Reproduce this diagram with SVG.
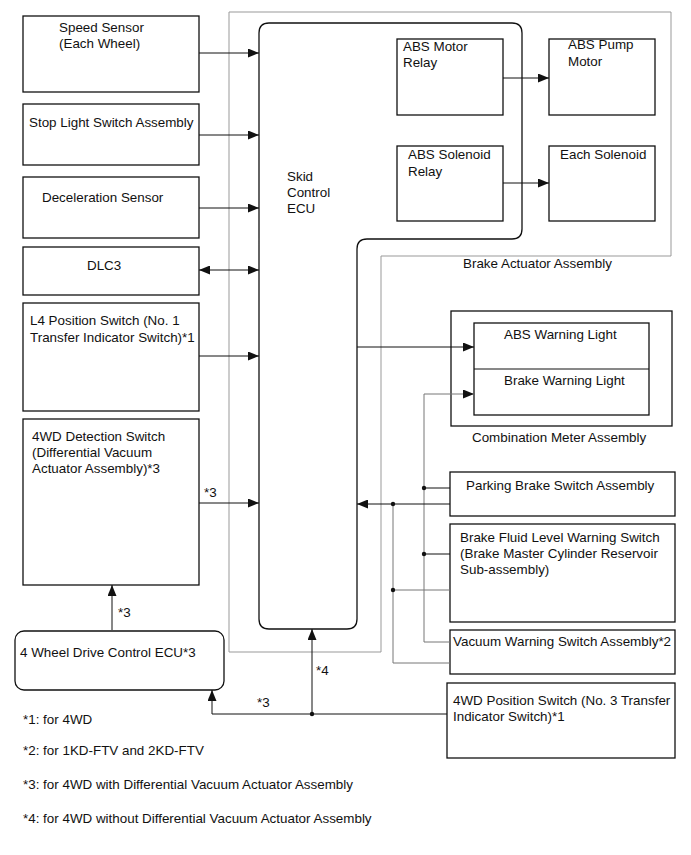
<svg xmlns="http://www.w3.org/2000/svg" width="691" height="855" viewBox="0 0 691 855">
<style>
text{font-family:"Liberation Sans",Arial,sans-serif;font-size:13.4px;fill:#111}
.box{fill:#fff;stroke:#111;stroke-width:1.3}
.gbox{fill:none;stroke:#999;stroke-width:1}
.c{fill:none;stroke:#111;stroke-width:1}
.g{fill:none;stroke:#777;stroke-width:1}
.dot{fill:#111}
</style>
<defs>
<marker id="ah" markerUnits="userSpaceOnUse" markerWidth="11" markerHeight="9" refX="11" refY="4.5" orient="auto-start-reverse" viewBox="0 0 11 9">
<path d="M0,0 L11,4.5 L0,9 Z" fill="#111"/>
</marker>
</defs>
<rect width="691" height="855" fill="#fff"/>
<g id="actuator">
<path class="gbox" d="M229,12 H671 V256 H381 V652 H229 Z"/>
<text x="463" y="268">Brake Actuator Assembly</text>
</g>
<g id="ecu">
<path class="box" d="M269,23 H512 Q522,23 522,33 V229 Q522,239 512,239 H367 Q357,239 357,249 V619 Q357,629 347,629 H269 Q259,629 259,619 V33 Q259,23 269,23 Z"/>
<text x="287" y="181">Skid</text>
<text x="287" y="197">Control</text>
<text x="287" y="213">ECU</text>
</g>
<g id="speed"><rect class="box" x="23" y="16" width="176" height="76"/><text x="59" y="32">Speed Sensor</text><text x="59" y="48">(Each Wheel)</text></g>
<g id="stop"><rect class="box" x="23" y="104" width="176" height="61"/><text x="29" y="127">Stop Light Switch Assembly</text></g>
<g id="decel"><rect class="box" x="23" y="177" width="176" height="61"/><text x="42" y="202">Deceleration Sensor</text></g>
<g id="dlc3"><rect class="box" x="23" y="247" width="176" height="48"/><text x="87" y="270">DLC3</text></g>
<g id="l4"><rect class="box" x="23" y="303" width="176" height="108"/><text x="30" y="325">L4 Position Switch (No. 1</text><text x="30" y="342">Transfer Indicator Switch)*1</text></g>
<g id="det4wd"><rect class="box" x="23" y="419" width="176" height="166"/><text x="32" y="441">4WD Detection Switch</text><text x="32" y="457">(Differential Vacuum</text><text x="32" y="473">Actuator Assembly)*3</text></g>
<g id="ecu4wd"><rect class="box" x="15" y="631" width="209" height="59" rx="9"/><text x="20" y="657">4 Wheel Drive Control ECU*3</text></g>
<g id="motorrelay"><rect class="box" x="397" y="39" width="106" height="76"/><text x="403" y="51">ABS Motor</text><text x="403" y="67">Relay</text></g>
<g id="pump"><rect class="box" x="549" y="39" width="106" height="76"/><text x="568" y="49">ABS Pump</text><text x="568" y="66">Motor</text></g>
<g id="solrelay"><rect class="box" x="397" y="146" width="106" height="75"/><text x="408" y="159">ABS Solenoid</text><text x="408" y="176">Relay</text></g>
<g id="solenoid"><rect class="box" x="549" y="146" width="106" height="75"/><text x="560" y="159">Each Solenoid</text></g>
<g id="combimeter">
<rect class="box" x="451" y="311" width="221" height="115"/>
<rect class="box" x="474" y="323" width="175" height="92"/>
<line class="c" x1="474" y1="369" x2="649" y2="369"/>
<text x="504" y="339">ABS Warning Light</text>
<text x="504" y="385">Brake Warning Light</text>
<text x="472" y="442">Combination Meter Assembly</text>
</g>
<g id="parking"><rect class="box" x="450" y="472" width="225" height="44"/><text x="466" y="490">Parking Brake Switch Assembly</text></g>
<g id="fluid"><rect class="box" x="450" y="524" width="225" height="98"/><text x="460" y="542">Brake Fluid Level Warning Switch</text><text x="460" y="558">(Brake Master Cylinder Reservoir</text><text x="460" y="574">Sub-assembly)</text></g>
<g id="vacuum"><rect class="box" x="450" y="630" width="225" height="44"/><text x="453" y="646">Vacuum Warning Switch Assembly*2</text></g>
<g id="pos4wd"><rect class="box" x="447" y="683" width="228" height="75"/><text x="453" y="705">4WD Position Switch (No. 3 Transfer</text><text x="453" y="721">Indicator Switch)*1</text></g>
<g id="connectors">
<path class="c" d="M199,53 H259" marker-end="url(#ah)"/>
<path class="c" d="M199,135 H259" marker-end="url(#ah)"/>
<path class="c" d="M199,208 H259" marker-end="url(#ah)"/>
<path class="c" d="M199,270 H259" marker-start="url(#ah)" marker-end="url(#ah)"/>
<path class="c" d="M199,356 H259" marker-end="url(#ah)"/>
<path class="c" d="M199,503 H259" marker-end="url(#ah)"/>
<path class="c" d="M503,78 H549" marker-end="url(#ah)"/>
<path class="c" d="M503,183 H549" marker-end="url(#ah)"/>
<path class="c" d="M357,347 H474" marker-end="url(#ah)"/>
<path class="g" d="M450,642 H424 V394 H474" marker-end="url(#ah)"/>
<path class="c" d="M450,488 H424"/>
<path class="c" d="M450,554 H424"/>
<path class="c" d="M450,504 H357" marker-end="url(#ah)"/>
<path class="g" d="M450,663 H393 V504"/>
<path class="g" d="M393,590 H450"/>
<path class="c" d="M112,630 V585" marker-end="url(#ah)"/>
<path class="c" d="M447,714 H212 V690" marker-end="url(#ah)"/>
<path class="c" d="M312,714 V629" marker-end="url(#ah)"/>
<circle class="dot" cx="424" cy="488" r="2.2"/>
<circle class="dot" cx="424" cy="554" r="2.2"/>
<circle class="dot" cx="393" cy="504" r="2.2"/>
<circle class="dot" cx="393" cy="590" r="2.2"/>
<circle class="dot" cx="312" cy="714" r="2.2"/>
<text x="204" y="497">*3</text>
<text x="118" y="617">*3</text>
<text x="316" y="675">*4</text>
<text x="257" y="707">*3</text>
</g>
<g id="notes">
<text x="23" y="724">*1: for 4WD</text>
<text x="23" y="755">*2: for 1KD-FTV and 2KD-FTV</text>
<text x="23" y="789">*3: for 4WD with Differential Vacuum Actuator Assembly</text>
<text x="23" y="823">*4: for 4WD without Differential Vacuum Actuator Assembly</text>
</g>
</svg>
